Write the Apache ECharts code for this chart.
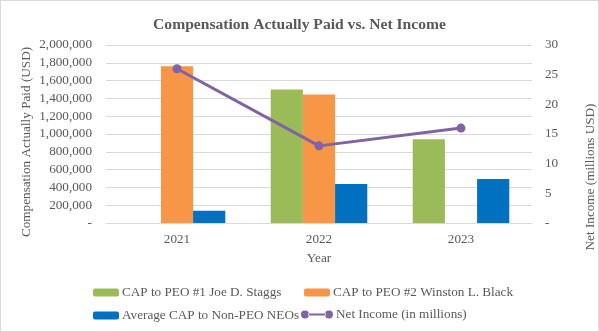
<!DOCTYPE html>
<html><head><meta charset="utf-8">
<script src="https://cdn.jsdelivr.net/npm/echarts@6/dist/echarts.min.js"></script>
<style>html,body{margin:0;padding:0;background:#fff}#c{width:597px;height:330px;border:1px solid #d9d9d9}</style>
</head><body><div id="c"></div>
<script>
const years = ['2021','2022','2023'];
const capPeo1 = [null, 1500000, 940000];
const capPeo2 = [1760000, 1445000, null];
const capNonPeo = [137000, 437000, 493000];
const netIncome = [26, 13, 16];
const seriesNames = ['CAP to PEO #1 Joe D. Staggs','CAP to PEO #2 Winston L. Black','Average CAP to Non-PEO NEOs','Net Income (in millions)'];
const leftAxisName = 'Compensation Actually Paid (USD)';
const rightAxisName = 'Net Income (millions USD)';

const font = 'Liberation Serif';
const tc = '#595959';
const chart = echarts.init(document.getElementById('c'));
const fmtL = v => v === 0 ? '-' : v.toLocaleString('en-US');
const lts = {fontFamily:font,fontSize:13.2,color:tc,padding:[0,0,0,-2]};
const lineIcon = 'path://M0,5a4,4 0 1,0 8,0a4,4 0 1,0 -8,0zM24,5a4,4 0 1,0 8,0a4,4 0 1,0 -8,0zM7,4L25,4L25,6L7,6z';
function lg(name, left, top, extra){
  return Object.assign({data:[name],left:left,top:top,padding:0,itemWidth:26,itemHeight:8,textStyle:lts},extra||{});
}
chart.setOption({
  animation:false,
  textStyle:{fontFamily:font,color:tc},
  title:{text:'Compensation Actually Paid vs. Net Income',left:'center',top:11,
    textStyle:{fontFamily:font,fontSize:15.6,fontWeight:'bold',color:tc}},
  grid:{left:105,right:66,top:44,bottom:108},
  legend:[
    lg(seriesNames[0],92,285),
    lg(seriesNames[1],303,285),
    lg(seriesNames[2],92,308),
    {data:[{name:seriesNames[3],icon:lineIcon}],left:300,top:307,padding:0,itemWidth:32,itemHeight:10,textStyle:lts}
  ],
  graphic:[
    {type:'text',x:26,y:141,rotation:Math.PI/2,
     style:{text:leftAxisName,fontFamily:font,fontSize:13.2,fill:tc,textAlign:'center',textVerticalAlign:'middle'}},
    {type:'text',x:590,y:176,rotation:Math.PI/2,
     style:{text:rightAxisName,fontFamily:font,fontSize:13.2,fill:tc,textAlign:'center',textVerticalAlign:'middle'}}
  ],
  xAxis:{type:'category',data:years,name:'Year',nameLocation:'middle',nameGap:29,
    nameTextStyle:{fontFamily:font,fontSize:13.2,color:tc},
    axisLine:{lineStyle:{color:'#d9d9d9'}},axisTick:{show:false},
    axisLabel:{fontFamily:font,fontSize:13.2,color:tc,margin:10}},
  yAxis:[
    {type:'value',min:0,max:2000000,interval:200000,
     axisLabel:{formatter:fmtL,fontFamily:font,fontSize:13.2,color:tc,margin:14},
     splitLine:{lineStyle:{color:'#d9d9d9'}},axisLine:{show:false},axisTick:{show:false}},
    {type:'value',min:0,max:30,interval:5,position:'right',
     axisLabel:{formatter:v=>v===0?'-':String(v),fontFamily:font,fontSize:13.2,color:tc,margin:13},
     splitLine:{show:false},axisLine:{show:false},axisTick:{show:false}}
  ],
  series:[
    {name:seriesNames[0],type:'bar',data:capPeo1,itemStyle:{color:'#9bbb59'},barGap:'0%',barCategoryGap:'32%'},
    {name:seriesNames[1],type:'bar',data:capPeo2,itemStyle:{color:'#f79646'}},
    {name:seriesNames[2],type:'bar',data:capNonPeo,itemStyle:{color:'#0070c0'}},
    {name:seriesNames[3],type:'line',yAxisIndex:1,data:netIncome,symbol:'circle',symbolSize:9,
     lineStyle:{color:'#8064a2',width:3},itemStyle:{color:'#8064a2'}}
  ]
});
</script></body></html>
